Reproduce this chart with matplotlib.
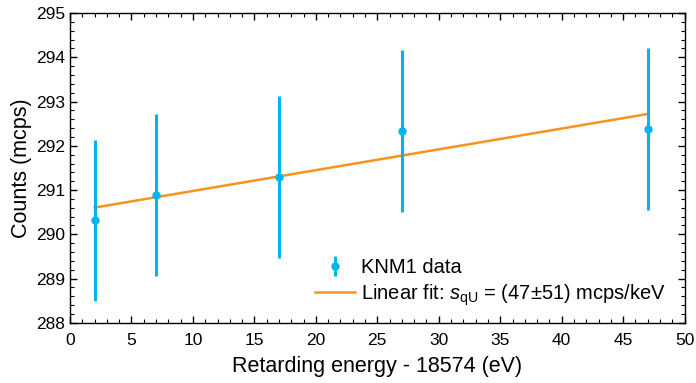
import matplotlib
matplotlib.use("Agg")
import matplotlib.pyplot as plt
from matplotlib.ticker import MultipleLocator

# KNM1 data points
energy = [2, 7, 17, 27, 47]
counts = [290.32, 290.88, 291.29, 292.34, 292.37]
errors = [1.82, 1.83, 1.83, 1.83, 1.83]

# linear fit (mcps per eV)
fit_slope = 0.047
fit_intercept = 290.51
fit_range = [2, 47]

family = "Liberation Sans"
plt.rcParams["font.family"] = [family, "DejaVu Sans"]
plt.rcParams["mathtext.fontset"] = "custom"
plt.rcParams["mathtext.it"] = family + ":italic"
plt.rcParams["mathtext.rm"] = family

blue = "#00B4EE"
orange = "#F7931E"

fig = plt.figure(figsize=(6.96, 3.83), dpi=100)
ax = fig.add_axes([0.1006, 0.157, 0.883, 0.809])

eb = ax.errorbar(energy, counts, yerr=errors, fmt="o", color=blue, ms=5,
                 elinewidth=2.2, capsize=0, label="KNM1 data", zorder=3)

fx = fit_range
fy = [fit_intercept + fit_slope * x for x in fx]
ln, = ax.plot(fx, fy, color=orange, lw=1.8,
              label=r"Linear fit: $s_{\mathrm{qU}}$ = (47$\pm$51) mcps/keV", zorder=2)

ax.set_xlim(0, 50)
ax.set_ylim(288, 295)
ax.xaxis.set_major_locator(MultipleLocator(5))
ax.xaxis.set_minor_locator(MultipleLocator(1))
ax.yaxis.set_major_locator(MultipleLocator(1))
ax.yaxis.set_minor_locator(MultipleLocator(0.2))
ax.tick_params(which="both", direction="in", top=True, right=True, labelsize=12.5)
ax.tick_params(axis="x", pad=7)
ax.tick_params(which="major", length=5, width=1)
ax.tick_params(which="minor", length=3, width=0.8)
for s in ax.spines.values():
    s.set_linewidth(1)

ax.set_xlabel("Retarding energy - 18574 (eV)", fontsize=15.5, labelpad=6)
ax.set_ylabel("Counts (mcps)", fontsize=15.5, labelpad=3)

leg = ax.legend([eb, ln], [eb.get_label(), ln.get_label()],
                loc="lower right", frameon=False, fontsize=14.5,
                handlelength=2.0, handletextpad=0.3, labelspacing=0.25,
                bbox_to_anchor=(1.0, -0.01))

fig.savefig("out.png", dpi=100)
